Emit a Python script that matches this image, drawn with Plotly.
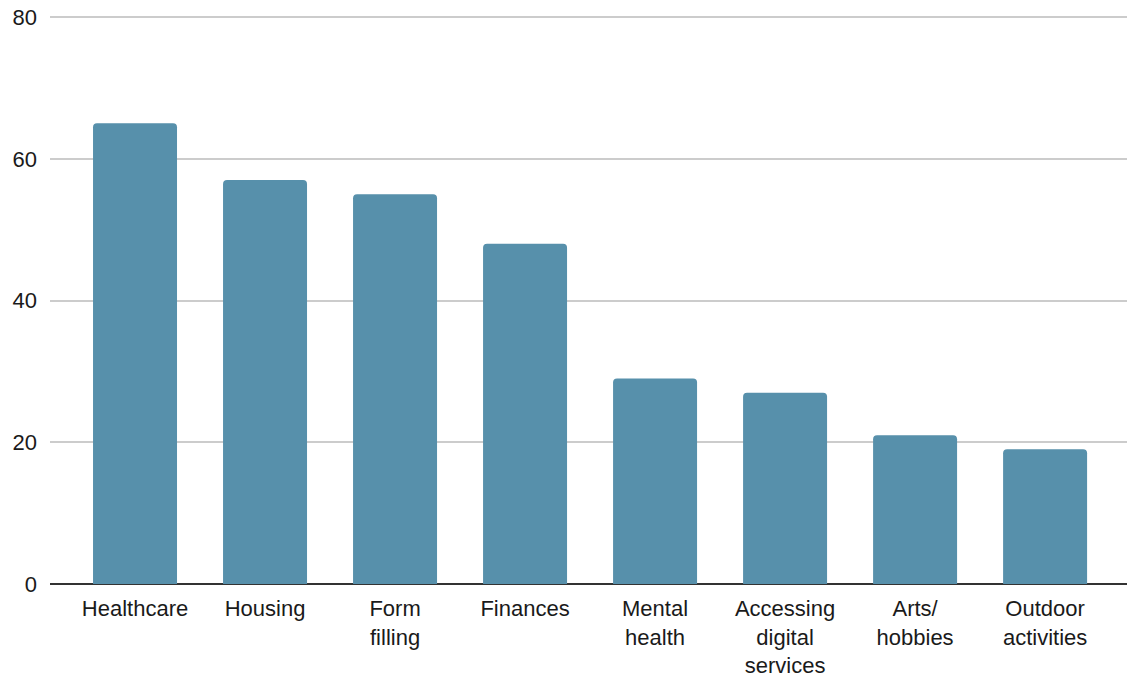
import plotly.graph_objects as go

categories = ["Healthcare", "Housing", "Form<br>filling", "Finances", "Mental<br>health",
              "Accessing<br>digital<br>services", "Arts/<br>hobbies", "Outdoor<br>activities"]
values = [65, 57, 55, 48, 29, 27, 21, 19]

fig = go.Figure(go.Bar(
    x=list(range(len(categories))), y=values,
    marker=dict(color="#5790ab", cornerradius=4, line=dict(width=0)),
    width=0.646,
))

fig.update_layout(
    width=1127, height=679,
    margin=dict(l=50, r=0, t=16, b=95),
    paper_bgcolor="white", plot_bgcolor="white",
    font=dict(family="Liberation Sans, Arial", size=22, color="#1a1a1a"),
    showlegend=False,
    xaxis=dict(
        range=[-0.654, 7.63], automargin=False,
        tickmode="array", tickvals=list(range(len(categories))), ticktext=categories,
        showgrid=False, zeroline=False, showline=False, ticks="", ticklabelstandoff=9,
    ),
    yaxis=dict(
        range=[0, 80.15], tickvals=[0, 20, 40, 60, 80], automargin=False,
        showgrid=True, gridcolor="#cccccc", gridwidth=1.5,
        zeroline=True, zerolinecolor="#333333", zerolinewidth=2,
        showline=False, ticks="", ticklabelstandoff=12,
    ),
)

fig.write_html("out.html")
